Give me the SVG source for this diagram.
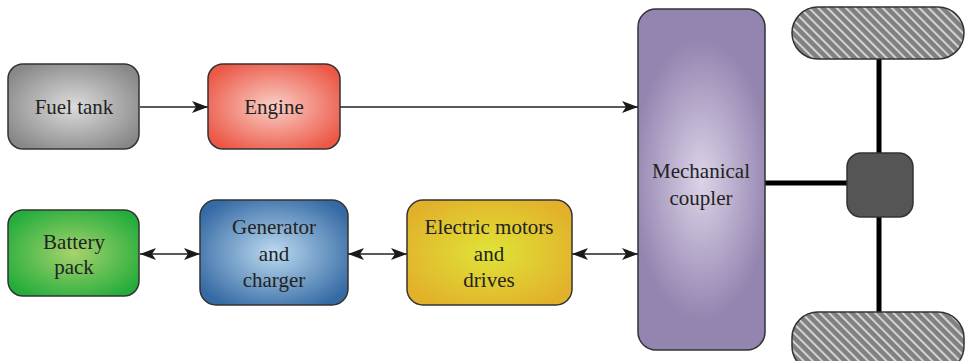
<svg xmlns="http://www.w3.org/2000/svg" width="965" height="361" viewBox="0 0 965 361">
<style>
.box{stroke:#333;stroke-width:1.5}
.t{font-family:"Liberation Serif","Times New Roman",serif;font-size:21px;fill:#222;text-anchor:middle}
.c{stroke:#222;stroke-width:1.3;fill:none}
.shaft{stroke:#000;stroke-width:5;fill:none}
</style>
<defs>
<radialGradient id="gGray" cx="50%" cy="50%" r="60%"><stop offset="0" stop-color="#dcdcdc"/><stop offset="1" stop-color="#888"/></radialGradient>
<radialGradient id="gRed" cx="50%" cy="50%" r="60%"><stop offset="0" stop-color="#f9cfc6"/><stop offset="1" stop-color="#ec5746"/></radialGradient>
<radialGradient id="gGreen" cx="50%" cy="50%" r="60%"><stop offset="0" stop-color="#a6d36c"/><stop offset="1" stop-color="#24ad3c"/></radialGradient>
<radialGradient id="gBlue" cx="50%" cy="50%" r="60%"><stop offset="0" stop-color="#bcdaf0"/><stop offset="1" stop-color="#356aa4"/></radialGradient>
<radialGradient id="gYellow" cx="50%" cy="50%" r="60%"><stop offset="0" stop-color="#dfe438"/><stop offset="1" stop-color="#e2b02a"/></radialGradient>
<radialGradient id="gPurple" cx="50%" cy="50%" r="55%" gradientTransform="translate(0.5 0.5) scale(1 0.75) translate(-0.5 -0.5)"><stop offset="0" stop-color="#dcd4e8"/><stop offset="1" stop-color="#9484b0"/></radialGradient>
<pattern id="hatch" patternUnits="userSpaceOnUse" width="6.5" height="6.5" patternTransform="rotate(-45)">
<rect width="6.5" height="6.5" fill="#808080"/>
<rect x="0" y="0" width="2" height="6.5" fill="#d4d4d4"/>
</pattern>
<marker id="ah" viewBox="0 0 16 12" refX="16" refY="6" markerWidth="16" markerHeight="12" markerUnits="userSpaceOnUse" orient="auto-start-reverse">
<path d="M0,0 L16,6 L0,12 L4,6 Z" fill="#1a1a1a"/>
</marker>
</defs>

<g id="connectors">
<line class="c" x1="140" y1="107" x2="208" y2="107" marker-end="url(#ah)"/>
<line class="c" x1="340" y1="107" x2="638" y2="107" marker-end="url(#ah)"/>
<line class="c" x1="140" y1="254" x2="200" y2="254" marker-start="url(#ah)" marker-end="url(#ah)"/>
<line class="c" x1="348" y1="254" x2="407" y2="254" marker-start="url(#ah)" marker-end="url(#ah)"/>
<line class="c" x1="572" y1="254" x2="638" y2="254" marker-start="url(#ah)" marker-end="url(#ah)"/>
<line class="shaft" x1="765" y1="183" x2="848" y2="183"/>
<line class="shaft" x1="879" y1="58" x2="879" y2="154"/>
<line class="shaft" x1="879" y1="216" x2="879" y2="313"/>
</g>

<g id="fuel-tank">
<rect class="box" x="8" y="64" width="131" height="85" rx="15" fill="url(#gGray)"/>
<text class="t" x="74" y="114">Fuel tank</text>
</g>
<g id="engine">
<rect class="box" x="208" y="64" width="132" height="85" rx="15" fill="url(#gRed)"/>
<text class="t" x="274" y="114">Engine</text>
</g>
<g id="battery-pack">
<rect class="box" x="8" y="210" width="131" height="86" rx="15" fill="url(#gGreen)"/>
<text class="t" x="74" y="249">Battery</text>
<text class="t" x="74" y="274">pack</text>
</g>
<g id="generator">
<rect class="box" x="200" y="200" width="148" height="105" rx="16" fill="url(#gBlue)"/>
<text class="t" x="274" y="234">Generator</text>
<text class="t" x="274" y="261">and</text>
<text class="t" x="274" y="287">charger</text>
</g>
<g id="motors">
<rect class="box" x="407" y="200" width="165" height="105" rx="16" fill="url(#gYellow)"/>
<text class="t" x="489" y="234">Electric motors</text>
<text class="t" x="489" y="261">and</text>
<text class="t" x="489" y="287">drives</text>
</g>
<g id="coupler">
<rect class="box" x="638" y="9" width="127" height="341" rx="18" fill="url(#gPurple)"/>
<text class="t" x="701" y="178">Mechanical</text>
<text class="t" x="701" y="205">coupler</text>
</g>
<g id="wheel-top">
<rect class="box" x="792" y="7" width="172" height="52" rx="26" fill="url(#hatch)"/>
</g>
<g id="wheel-bottom">
<rect class="box" x="792" y="312" width="172" height="60" rx="26" fill="url(#hatch)"/>
</g>
<g id="differential">
<rect class="box" x="847" y="153" width="66" height="64" rx="14" fill="#555"/>
</g>
</svg>
